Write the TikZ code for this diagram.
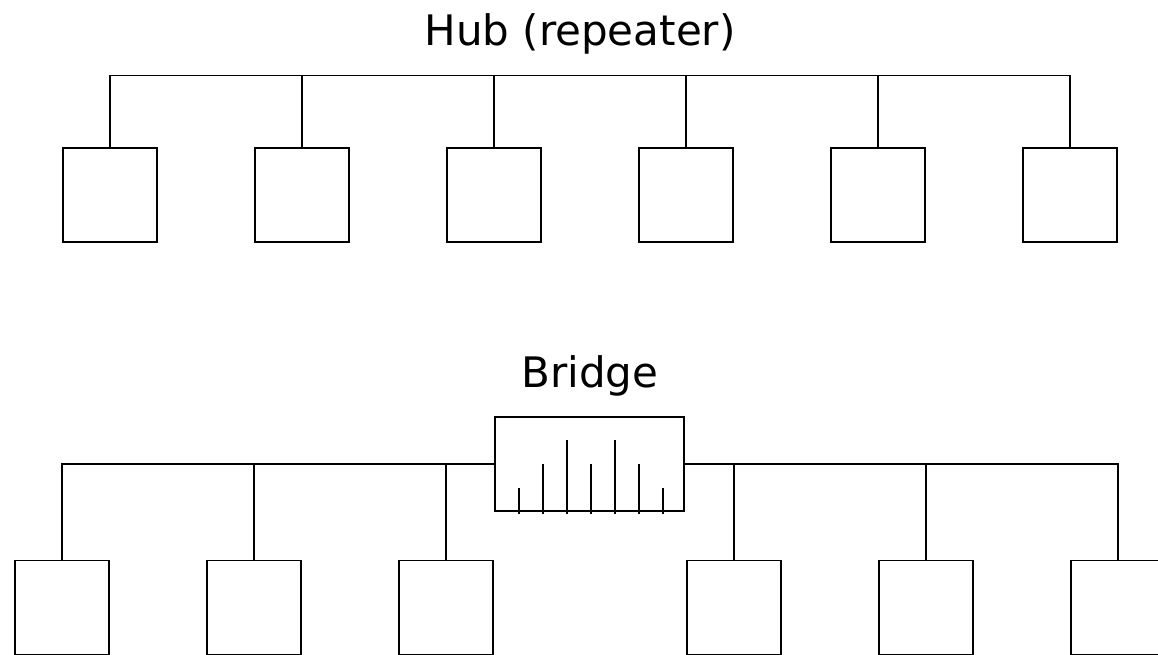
\documentclass[tikz,border=0pt]{standalone}
\usepackage{fontspec}
\setmainfont{DejaVu Sans}
\begin{document}
\begin{tikzpicture}[x=1pt,y=-1pt,line width=1.8pt,
  station/.style={draw,minimum width=94pt,minimum height=94pt,inner sep=0pt},
  bridgebox/.style={draw,minimum width=189pt,minimum height=94pt,inner sep=0pt},
  caption/.style={anchor=base,inner sep=0pt,font=\fontsize{42}{50}\selectfont}]
\useasboundingbox (0,0) rectangle (1158,655);

% Hub (repeater): one shared bus
\node[caption] (hubtitle) at (580,46) {Hub (repeater)};
\coordinate (hb) at (0,75.5);
\foreach \i in {1,...,6}
  \node[station] (h\i) at ({110+192*(\i-1)},195) {};
\draw (h1.north) |- (h6.north |- hb) -- (h6.north);
\foreach \i in {2,...,5}
  \draw (h\i.north) -- (h\i.north |- hb);

% Bridge joining two segments
\node[caption] (brtitle) at (590,387) {Bridge};
\node[bridgebox] (br) at (589.5,464) {};
\foreach \i/\x in {1/62,2/254,3/446,4/734,5/926,6/1118}
  \node[station] (b\i) at (\x,607.5) {};
\draw (b1.north) |- (br.west);
\draw (br.east) -| (b6.north);
\foreach \i in {2,3}
  \draw (b\i.north) -- (b\i.north |- br.west);
\foreach \i in {4,5}
  \draw (b\i.north) -- (b\i.north |- br.east);

% comb of ports inside the bridge
\foreach \k/\h in {0/488,1/464,2/440,3/464,4/440,5/464,6/488}
  \draw ({519+24*\k},514) -- ({519+24*\k},\h);
\end{tikzpicture}
\end{document}
